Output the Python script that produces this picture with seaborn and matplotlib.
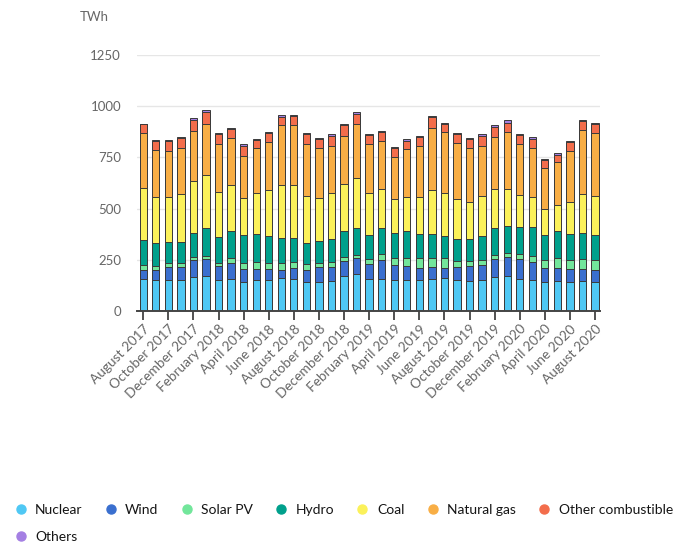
import pandas as pd
import seaborn as sns
import matplotlib.pyplot as plt
from matplotlib.lines import Line2D

# monthly generation, TWh, Aug 2017 - Aug 2020
months = pd.date_range("2017-08-01", "2020-08-01", freq="MS").strftime("%B %Y").tolist()

nuclear = [154, 150, 150, 151, 166, 172, 151, 154, 140, 151, 151, 159, 154, 143, 143, 148, 172, 179, 156,
           158, 150, 153, 151, 158, 159, 151, 148, 151, 166, 172, 154, 153, 140, 146, 140, 146, 143]
wind = [44, 48, 65, 65, 83, 83, 67, 78, 65, 52, 52, 41, 57, 55, 70, 68, 74, 80, 72,
        91, 73, 68, 59, 58, 49, 65, 73, 73, 89, 91, 100, 86, 68, 62, 63, 59, 55]
solar = [26, 22, 17, 16, 13, 15, 18, 25, 31, 36, 33, 34, 28, 31, 23, 25, 19, 16, 24,
         29, 36, 38, 47, 44, 49, 30, 25, 25, 20, 22, 22, 28, 41, 51, 46, 47, 49]
hydro = [121, 113, 106, 106, 120, 135, 127, 136, 136, 138, 131, 122, 117, 104, 105, 113, 124, 130, 119,
         127, 121, 130, 119, 116, 110, 105, 108, 118, 130, 130, 135, 144, 123, 134, 128, 130, 125]
coal = [257, 226, 221, 231, 254, 257, 219, 220, 182, 199, 222, 259, 259, 228, 213, 223, 229, 242, 205,
        192, 165, 170, 183, 216, 209, 194, 176, 194, 189, 182, 155, 148, 124, 127, 153, 187, 189]
gas = [265, 225, 223, 228, 242, 253, 231, 232, 205, 222, 235, 291, 291, 252, 244, 231, 237, 268, 237,
       231, 209, 230, 249, 301, 296, 276, 268, 247, 256, 275, 247, 239, 200, 207, 252, 315, 309]
other_comb = [44, 45, 47, 50, 54, 59, 49, 44, 46, 39, 44, 42, 48, 49, 44, 46, 52, 49, 44,
              44, 44, 40, 42, 52, 43, 44, 43, 47, 49, 48, 44, 43, 39, 37, 41, 43, 45]
others = [4, 5, 5, 3, 8, 6, 6, 5, 8, 5, 5, 11, 5, 6, 5, 9, 5, 7, 5,
          9, 5, 10, 5, 5, 5, 5, 5, 8, 7, 12, 6, 9, 5, 7, 5, 6, 5]

sources = ["Nuclear", "Wind", "Solar PV", "Hydro", "Coal", "Natural gas", "Other combustible", "Others"]
colors = ["#4fc8f4", "#3a6fcf", "#72e69b", "#00a08c", "#fbf15a", "#f8ae45", "#f36d4b", "#a47fe3"]

sns.set_theme(style="white")
plt.rcParams["font.family"] = ["Lato", "DejaVu Sans"]

df = pd.DataFrame(dict(zip(sources, [nuclear, wind, solar, hydro, coal, gas, other_comb, others])),
                  index=months)
cum = df.cumsum(axis=1)

fig = plt.figure(figsize=(6.91, 5.45), dpi=100)
ax = fig.add_axes([137 / 691, 1 - 311 / 545, 463 / 691, 256 / 545])

# stacked bars: draw cumulative totals from the top layer down
for src, col in reversed(list(zip(sources, colors))):
    sns.barplot(x=months, y=cum[src].values, order=months, color=col, saturation=1,
                width=0.58, edgecolor="#3a3a3a", linewidth=0.7, errorbar=None, ax=ax)

ax.set_xlim(-0.5, 36.4)
ax.set_ylim(0, 1250)
ax.set_yticks([0, 250, 500, 750, 1000, 1250])
ax.yaxis.grid(True, color="#e6e6e6", lw=1)
ax.set_axisbelow(True)
for s in ["top", "right", "left"]:
    ax.spines[s].set_visible(False)
ax.spines["bottom"].set_color("#444444")
ax.spines["bottom"].set_linewidth(1.4)

ax.set_xticks(range(0, len(months), 2))
ax.set_xticklabels(months[::2], rotation=45, ha="right", va="top", rotation_mode="anchor",
                   fontsize=9.8, color="#666666")
ax.tick_params(axis="x", length=6.5, width=1.2, color="#333333", pad=2, bottom=True)
ax.tick_params(axis="y", length=0, pad=11.5, labelsize=9.5, labelcolor="#666666")
ax.set_xlabel("")
ax.set_ylabel("")

fig.text(80 / 691, 1 - 17 / 545, "TWh", ha="left", va="center", fontsize=9.5, color="#666666")

handles = [Line2D([], [], ls="", marker="o", markersize=6.5, markerfacecolor=c, markeredgecolor=c)
           for c in colors]
order = [0, 7, 1, 2, 3, 4, 5, 6]
fig.legend([handles[i] for i in order], [sources[i] for i in order], ncol=7,
           loc="center left", bbox_to_anchor=(15 / 691, 1 - 523.5 / 545), frameon=False,
           fontsize=10, handlelength=0.8, handletextpad=0.65, columnspacing=1.62,
           labelspacing=1.1, borderpad=0, borderaxespad=0, labelcolor="#151515")

fig.savefig("out.png", dpi=100)
